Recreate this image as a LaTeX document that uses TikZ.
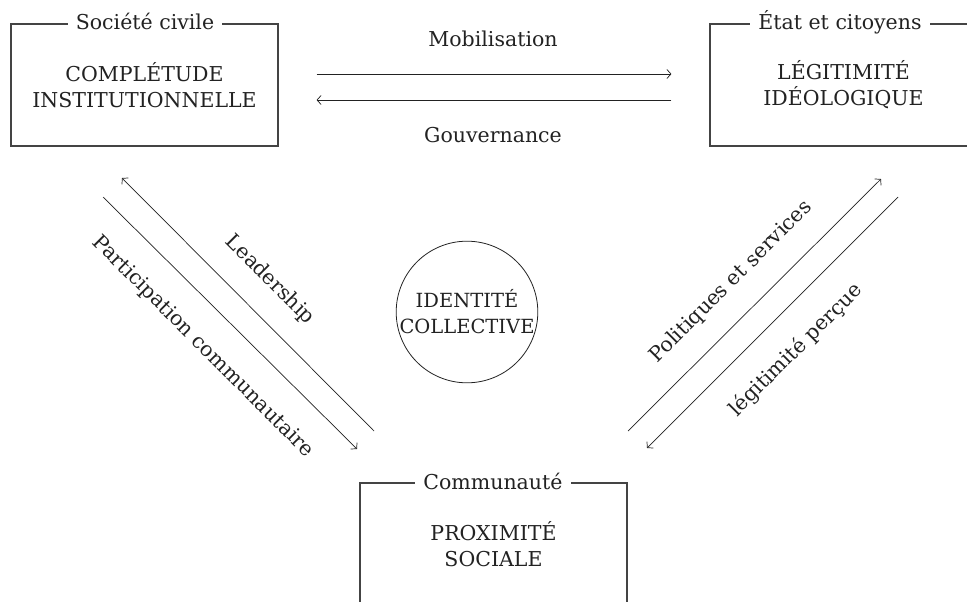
\documentclass[tikz,border=0pt]{standalone}
\usepackage{fontspec}
\setmainfont{DejaVu Serif}
\usetikzlibrary{arrows.meta}
\definecolor{ink}{HTML}{222222}
\definecolor{frame}{HTML}{444444}
\begin{document}
\begin{tikzpicture}[x=1pt,y=-1pt,
  box/.style={draw=frame, line width=1.2pt, minimum width=267pt, minimum height=122pt,
    align=center, text=ink, font=\fontsize{20.5}{26}\selectfont, inner sep=0pt},
  boxtitle/.style={fill=white, text=ink, font=\fontsize{20.5}{22}\selectfont, inner xsep=8pt, inner ysep=2pt, anchor=base},
  lab/.style={text=ink, font=\fontsize{20.5}{22}\selectfont, inner sep=0pt},
  conn/.style={draw=ink, line width=0.7pt, -{Straight Barb[length=4pt,width=9pt]}},
  ring/.style={circle, draw=ink, line width=0.8pt, minimum size=140pt, align=center, text=ink,
    font=\fontsize{19.5}{26}\selectfont, inner sep=0pt}]
\useasboundingbox (0,0) rectangle (967,602);
\clip (0,0) rectangle (967,602);
\fill[white] (0,0) rectangle (967,602);

% boxes
\node[box] (b1) at (144.5,85) {COMPLÉTUDE\\INSTITUTIONNELLE};
\node[box] (b2) at (843.5,85) {LÉGITIMITÉ\\IDÉOLOGIQUE};
\node[box] (b3) at (493.5,544) {PROXIMITÉ\\SOCIALE};
\node[boxtitle] (t1) at (145,30) {Société civile};
\node[boxtitle] (t2) at (840,30) {État et citoyens};
\node[boxtitle] (t3) at (493,489) {Communauté};

% centre
\node[ring] (c) at (467,312) {IDENTITÉ\\COLLECTIVE};

% horizontal arrows
\draw[conn, shorten <=38pt, shorten >=38pt] ([yshift=11pt]b1.east) -- ([yshift=11pt]b2.west);
\draw[conn, shorten <=38pt, shorten >=38pt] ([yshift=-15pt]b2.west) -- ([yshift=-15pt]b1.east);
\node[lab, anchor=base] (mob) at (493,47) {Mobilisation};
\node[lab, anchor=base] (gov) at (493,142) {Gouvernance};

% diagonal endpoints
\coordinate (lsA) at (374,431);
\coordinate (lsB) at (122,178);
\coordinate (pcA) at (103,197);
\coordinate (pcB) at (357,449);
\coordinate (psA) at (628,431);
\coordinate (psB) at (881,179);
\coordinate (lpA) at (898,197);
\coordinate (lpB) at (647,448);

\draw[conn] (lsA) -- (lsB);
\draw[conn] (pcA) -- (pcB);
\draw[conn] (psA) -- (psB);
\draw[conn] (lpA) -- (lpB);

\node[lab, rotate=-45] (lead) at (270,280) {Leadership};
\node[lab, rotate=-45] (part) at (203,347) {Participation communautaire};
\node[lab, rotate=45] (pol) at (731,282) {Politiques et services};
\node[lab, rotate=45] (leg) at (796,350) {légitimité perçue};
\end{tikzpicture}
\end{document}
